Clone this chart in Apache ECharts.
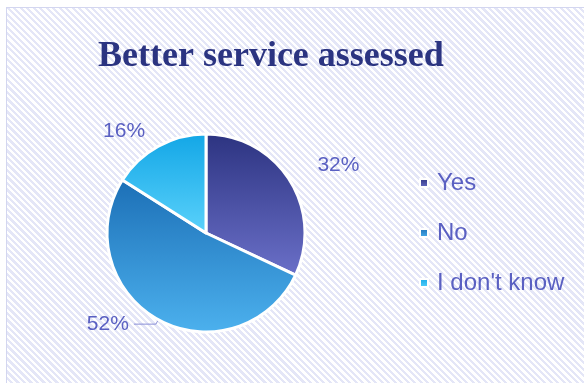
<!DOCTYPE html>
<html>
<head>
<meta charset="utf-8">
<script src="https://cdn.jsdelivr.net/npm/echarts@6/dist/echarts.min.js"></script>
<style>
  html, body { margin: 0; padding: 0; background: #fff; }
  #box {
    position: absolute; left: 6px; top: 7px; width: 578px; height: 376px;
    box-sizing: border-box; border: 1px solid #d3d6f0; border-right: none; border-bottom: none;
    background: repeating-linear-gradient(45deg, #ffffff 0px, #ffffff 2.3px, #e4e6f7 2.3px, #e4e6f7 4.6px);
  }
  #chart { width: 577px; height: 375px; }
</style>
</head>
<body>
<div id="box"><div id="chart"></div></div>
<script>
// data
const titleText = 'Better service assessed'
const categories = ['Yes', 'No', "I don't know"]
const shares = [32, 52, 16]
// top / bottom colours of each slice gradient
const topColors = ['#2c3380', '#1c6fb6', '#12a6e6']
const bottomColors = ['#6b70c9', '#4cb1ee', '#5bd2fb']
// label leader lines per slice (only "No" shows its line)
const lineShow = [false, true, false]
const lineLen = [27, 5, 17]
const lineLen2 = [0, 22, 0]

const textColor = '#5a60c2'

const grad = (i) => new echarts.graphic.LinearGradient(0, 0, 0, 1, [
  { offset: 0, color: topColors[i] },
  { offset: 1, color: bottomColors[i] }
])

const chart = echarts.init(document.getElementById('chart'))
chart.setOption({
  animation: false,
  title: {
    text: titleText,
    left: 86,
    top: 26,
    textStyle: {
      fontFamily: 'Liberation Serif',
      fontWeight: 'bold',
      fontSize: 36,
      color: '#2b3481'
    }
  },
  legend: {
    orient: 'vertical',
    left: 407,
    top: 158,
    itemWidth: 8,
    itemHeight: 8,
    itemGap: 26,
    icon: 'rect',
    textStyle: { color: textColor, fontSize: 24, fontFamily: 'Liberation Sans', padding: [0, 0, 0, 4] },
    data: categories
  },
  series: [{
    type: 'pie',
    center: [199, 225],
    radius: 99,
    startAngle: 90,
    clockwise: true,
    itemStyle: { borderColor: '#ffffff', borderWidth: 3 },
    label: {
      show: true,
      position: 'outside',
      formatter: '{d}%',
      color: textColor,
      fontSize: 21,
      fontFamily: 'Liberation Sans'
    },
    labelLine: {
      show: true,
      lineStyle: { color: '#8a8fd6', width: 1 }
    },
    data: categories.map((c, i) => ({
      name: c,
      value: shares[i],
      itemStyle: { color: grad(i) },
      labelLine: {
        length: lineLen[i],
        length2: lineLen2[i],
        lineStyle: { opacity: lineShow[i] ? 1 : 0 }
      }
    }))
  }]
})
</script>
</body>
</html>
